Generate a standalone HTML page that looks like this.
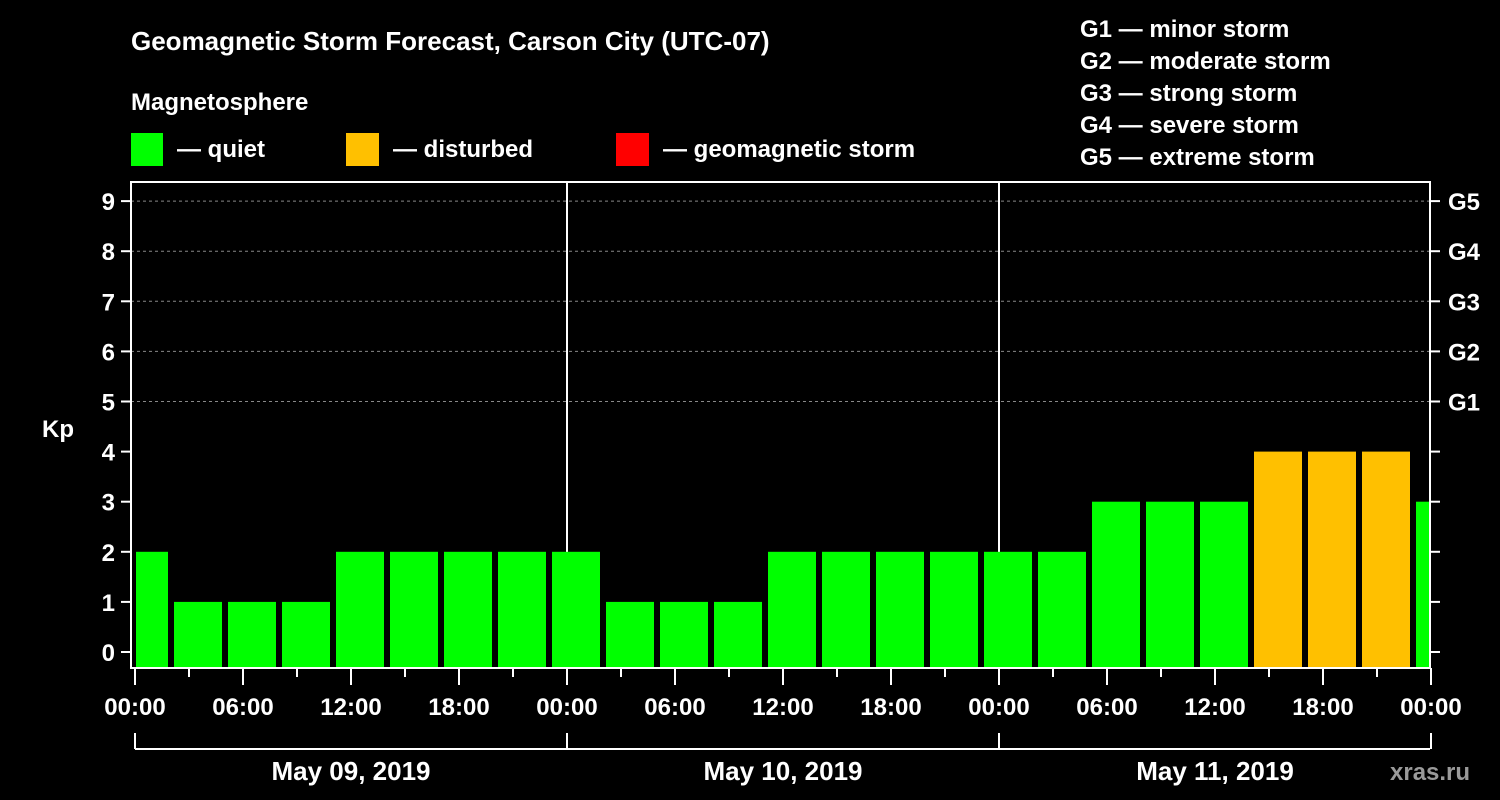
<!DOCTYPE html>
<html><head><meta charset="utf-8"><style>
html,body{margin:0;padding:0;background:#000;width:1500px;height:800px;overflow:hidden}
svg text{font-family:"Liberation Sans",Arial,sans-serif;font-weight:bold;fill:#fff}
</style></head><body>
<svg id="c" width="1500" height="800">
<text x="131" y="50" font-size="26">Geomagnetic Storm Forecast, Carson City (UTC-07)</text>
<text x="131" y="110" font-size="24">Magnetosphere</text>
<rect x="131" y="133" width="32" height="33" fill="#00ff00"/>
<text x="177" y="157" font-size="24">— quiet</text>
<rect x="346" y="133" width="33" height="33" fill="#ffc000"/>
<text x="393" y="157" font-size="24">— disturbed</text>
<rect x="616" y="133" width="33" height="33" fill="#ff0000"/>
<text x="663" y="157" font-size="24">— geomagnetic storm</text>
<g font-size="24">
<text x="1080" y="37">G1 — minor storm</text>
<text x="1080" y="69">G2 — moderate storm</text>
<text x="1080" y="101">G3 — strong storm</text>
<text x="1080" y="133">G4 — severe storm</text>
<text x="1080" y="165">G5 — extreme storm</text>
</g>
<text x="42" y="437" font-size="24">Kp</text>
<text x="1390" y="780" font-size="24" fill="#aaa" style="fill:#9a9a9a">xras.ru</text>
<g id="grid"></g><g id="bars"></g><g id="axes"></g>
</svg>
<script>
const kpValues=[2,1,1,1,2,2,2,2, 2,1,1,1,2,2,2,2, 2,2,3,3,3,4,4,4,3];
const barHours=[0.5,3.5,6.5,9.5,12.5,15.5,18.5,21.5,24.5,27.5,30.5,33.5,36.5,39.5,42.5,45.5,48.5,51.5,54.5,57.5,60.5,63.5,66.5,69.5,72.5];
const timeTicks=["00:00","06:00","12:00","18:00","00:00","06:00","12:00","18:00","00:00","06:00","12:00","18:00","00:00"];
const dayLabels=["May 09, 2019","May 10, 2019","May 11, 2019"];
const gLabels=["G1","G2","G3","G4","G5"];
const NS="http://www.w3.org/2000/svg";
const L=131,R=1430,T=182,B=668,X0=135;
const x=h=>X0+h*18; const y=v=>652-v*50.1;
function mk(tag,attrs,parent){const e=document.createElementNS(NS,tag);for(const k in attrs)e.setAttribute(k,attrs[k]);parent.appendChild(e);return e;}
const grid=document.getElementById('grid'),bars=document.getElementById('bars'),axes=document.getElementById('axes');
for(let v=5;v<=9;v++){const ln=mk('line',{x1:L,x2:R,y1:y(v),y2:y(v),stroke:'#888','stroke-dasharray':'3,3'},grid);

}
for(let d=1;d<3;d++){const ln=mk('line',{x1:x(d*24),x2:x(d*24),y1:T,y2:B,stroke:'#fff','stroke-width':2},grid);

}
kpValues.forEach((v,i)=>{const c=barHours[i];let a=Math.max(x(c)-24,X0+1),b=Math.min(x(c)+24,R);
const col=v>=5?'#ff0000':(v>=4?'#ffc000':'#00ff00');
const r=mk('rect',{x:a,y:y(v),width:b-a,height:B-y(v),fill:col},bars);

});
mk('rect',{x:L,y:T,width:R-L,height:B-T,fill:'none',stroke:'#fff','stroke-width':2},axes);
for(let v=0;v<=9;v++){mk('line',{x1:L-10,x2:L,y1:y(v),y2:y(v),stroke:'#fff','stroke-width':2},axes);
mk('line',{x1:R,x2:R+10,y1:y(v),y2:y(v),stroke:'#fff','stroke-width':2},axes);
const t=mk('text',{x:L-16,y:y(v)+9,'font-size':24,'text-anchor':'end'},axes);t.textContent=v;

}
gLabels.forEach((g,i)=>{const t=mk('text',{x:R+18,y:y(i+5)+9,'font-size':24},axes);t.textContent=g;

});
for(let h=0;h<=72;h+=3){mk('line',{x1:x(h),x2:x(h),y1:B,y2:h%6==0?B+17:B+9,stroke:'#fff','stroke-width':2},axes);}
timeTicks.forEach((s,i)=>{const t=mk('text',{x:x(i*6),y:715,'font-size':24,'text-anchor':'middle'},axes);t.textContent=s;

});
mk('line',{x1:X0,x2:R,y1:749,y2:749,stroke:'#fff','stroke-width':2},axes);
for(let d=0;d<=3;d++)mk('line',{x1:x(d*24),x2:x(d*24),y1:733,y2:749,stroke:'#fff','stroke-width':2},axes);
dayLabels.forEach((s,i)=>{const t=mk('text',{x:x(i*24+12),y:780,'font-size':26,'text-anchor':'middle'},axes);t.textContent=s;

});
</script>
</body></html>
